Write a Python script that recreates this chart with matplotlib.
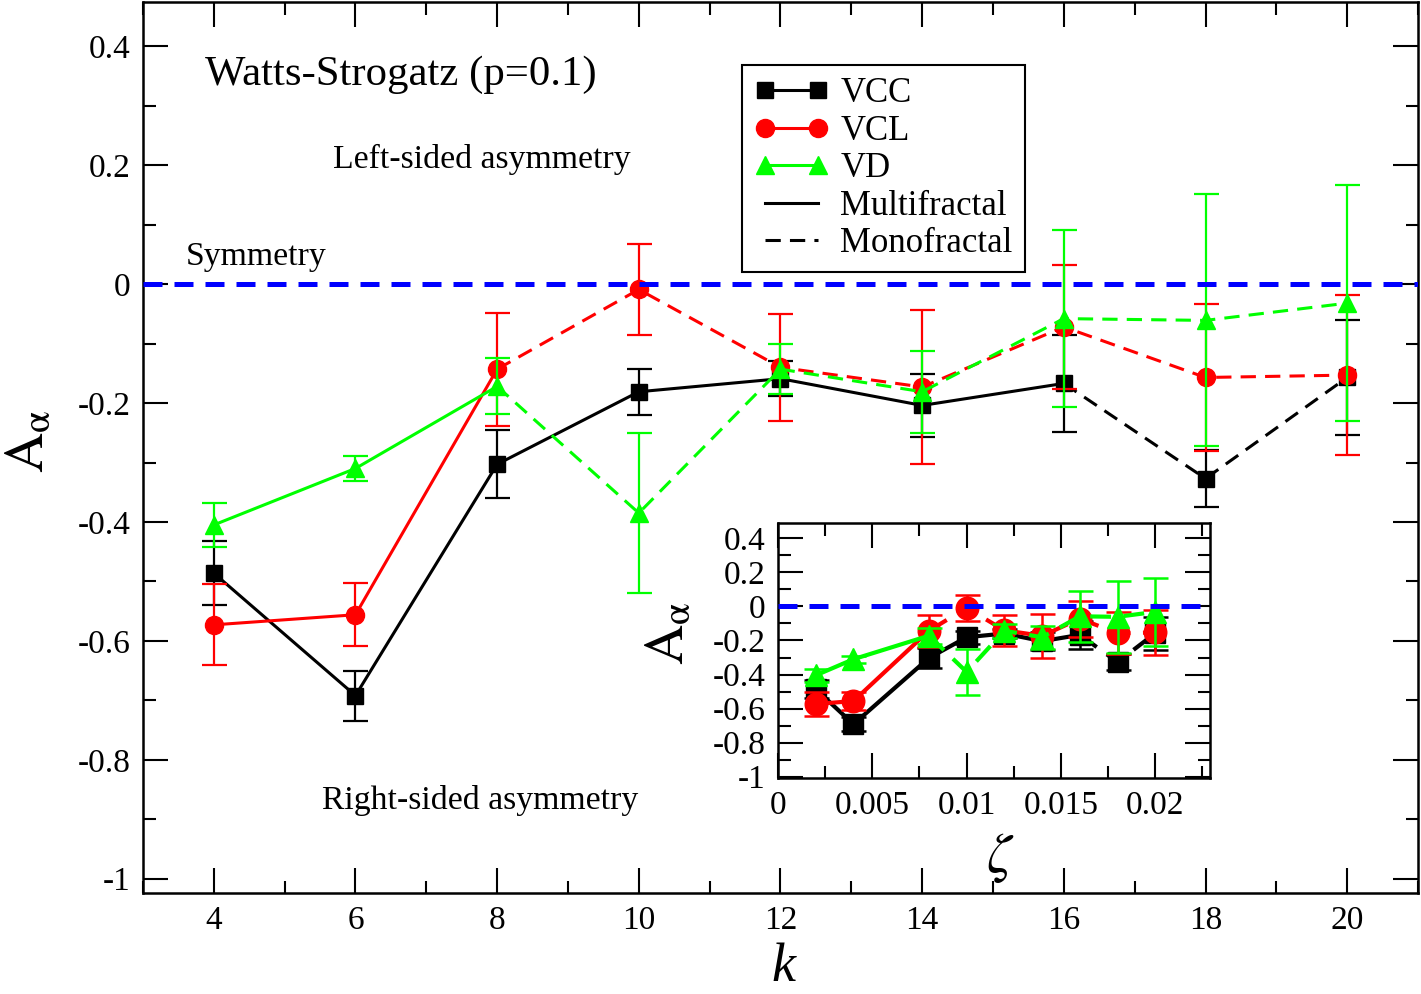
import matplotlib
matplotlib.use('Agg')
import matplotlib.pyplot as plt
from matplotlib.lines import Line2D
from matplotlib.ticker import MultipleLocator, FuncFormatter

plt.rcParams['font.family'] = ['Liberation Serif', 'DejaVu Serif']
plt.rcParams['mathtext.fontset'] = 'stix'
plt.rcParams['axes.unicode_minus'] = False

# data
k = [4, 6, 8, 10, 12, 14, 16, 18, 20]
zeta = [0.002, 0.004, 0.008, 0.010, 0.012, 0.014, 0.016, 0.018, 0.020]

vcc = [-0.486, -0.692, -0.303, -0.181, -0.159, -0.204, -0.167, -0.327, -0.157]
vcc_err = [0.054, 0.042, 0.057, 0.039, 0.029, 0.053, 0.082, 0.048, 0.096]
vcl = [-0.573, -0.556, -0.143, -0.009, -0.140, -0.173, -0.072, -0.157, -0.153]
vcl_err = [0.068, 0.053, 0.095, 0.077, 0.090, 0.130, 0.105, 0.123, 0.135]
vd = [-0.405, -0.310, -0.172, -0.385, -0.143, -0.181, -0.058, -0.061, -0.032]
vd_err = [0.037, 0.021, 0.047, 0.134, 0.042, 0.069, 0.149, 0.212, 0.199]

# index of last multifractal point (solid line), dashed afterwards
vcc_split = 6
vcl_split = 2
vd_split = 2

series = [
    (vcc, vcc_err, vcc_split, 'black', 's', 'VCC'),
    (vcl, vcl_err, vcl_split, 'red', 'o', 'VCL'),
    (vd, vd_err, vd_split, '#00ff00', '^', 'VD'),
]
msizes = {'s': 11, 'o': 13, '^': 13}


def draw(ax, x, lw, ms_scale, elw, cap):
    for y, err, split, color, marker, label in series:
        ax.errorbar(x, y, yerr=err, fmt='none', ecolor=color, elinewidth=elw,
                    capsize=cap, capthick=elw)
        ax.plot(x[:split + 1], y[:split + 1], '-', color=color, lw=lw)
        dl, = ax.plot(x[split:], y[split:], '--', color=color, lw=lw)
        dl.set_dashes((5, 3))
        ax.plot(x, y, ls='none', marker=marker, color=color,
                ms=msizes[marker] * ms_scale, mec=color)
    zl = ax.axhline(0, color='blue', lw=3.6, ls='--', zorder=5)
    zl.set_dashes((3.8, 2.4))


def style(ax, xmaj, xmin, ymaj, ymin):
    ax.xaxis.set_major_locator(MultipleLocator(xmaj))
    ax.xaxis.set_minor_locator(MultipleLocator(xmin))
    ax.yaxis.set_major_locator(MultipleLocator(ymaj))
    ax.yaxis.set_minor_locator(MultipleLocator(ymin))
    fmt = FuncFormatter(lambda v, p: '%g' % round(v, 6))
    ax.xaxis.set_major_formatter(fmt)
    ax.yaxis.set_major_formatter(fmt)
    ax.tick_params(which='both', direction='in', top=True, right=True,
                   width=1.5, labelsize=24)
    ax.tick_params(which='major', length=18)
    ax.tick_params(which='minor', length=9)
    ax.tick_params(axis='x', pad=9)
    ax.tick_params(axis='y', pad=9)
    for s in ax.spines.values():
        s.set_linewidth(1.8)


fig = plt.figure(figsize=(14.21, 9.94), dpi=100)
ax = fig.add_axes([0.1006, 0.1016, 0.8973, 0.8964])
draw(ax, k, 2.2, 1.0, 1.6, 9)
ax.set_xlim(3, 21)
ax.set_ylim(-1.024, 0.4745)
style(ax, 2, 1, 0.2, 0.1)

ax.text(3.877, 0.335, 'Watts-Strogatz (p=0.1)', fontsize=30.8, va='baseline')
ax.text(5.687, 0.1955, 'Left-sided asymmetry', fontsize=24.3, va='baseline')
ax.text(3.608, 0.0325, 'Symmetry', fontsize=24.3, va='baseline')
ax.text(5.53, -0.8835, 'Right-sided asymmetry', fontsize=24.3, va='baseline')

fig.text(28 / 1421, 1 - 441 / 994, r'$\mathrm{A}_{\mathrm{\alpha}}$', fontsize=40,
         rotation=90, ha='center', va='center')
fig.text(783 / 1421, 1 - 968 / 994, 'k', fontsize=39, style='italic',
         ha='center', va='center')

handles = [
    Line2D([], [], color='black', marker='s', ms=12, lw=2.2),
    Line2D([], [], color='red', marker='o', ms=13, lw=2.2),
    Line2D([], [], color='#00ff00', marker='^', ms=13, lw=2.2),
    Line2D([], [], color='black', lw=2.2),
    Line2D([], [], color='black', lw=2.2, ls=(0, (5, 3))),
]
labels = ['VCC', 'VCL', 'VD', 'Multifractal', 'Monofractal']
leg = ax.legend(handles, labels, loc='upper left',
                bbox_to_anchor=(742 / 1421, 1 - 65 / 994),
                bbox_transform=fig.transFigure, borderaxespad=0,
                fontsize=25, numpoints=2, handlelength=2.13,
                handletextpad=0.35, labelspacing=0.13, borderpad=0.35,
                fancybox=False, framealpha=1, edgecolor='black')
leg.get_frame().set_linewidth(1.5)

# inset
ins = fig.add_axes([0.5475, 0.2173, 0.304, 0.2565])
ins.set_facecolor('white')
draw(ins, zeta, 3.0, 1.25, 1.8, 9)
ins.set_xlim(0, 0.0229)
ins.set_ylim(-1.008, 0.49)
style(ins, 0.005, 0.0025, 0.2, 0.1)
fig.text(668 / 1421, 1 - 633 / 994, r'$\mathrm{A}_{\mathrm{\alpha}}$', fontsize=40,
         rotation=90, ha='center', va='center')
fig.text(1000 / 1421, 1 - 858 / 994, r'$\zeta$', fontsize=40,
         ha='center', va='center')

fig.savefig('out.png', dpi=100)
